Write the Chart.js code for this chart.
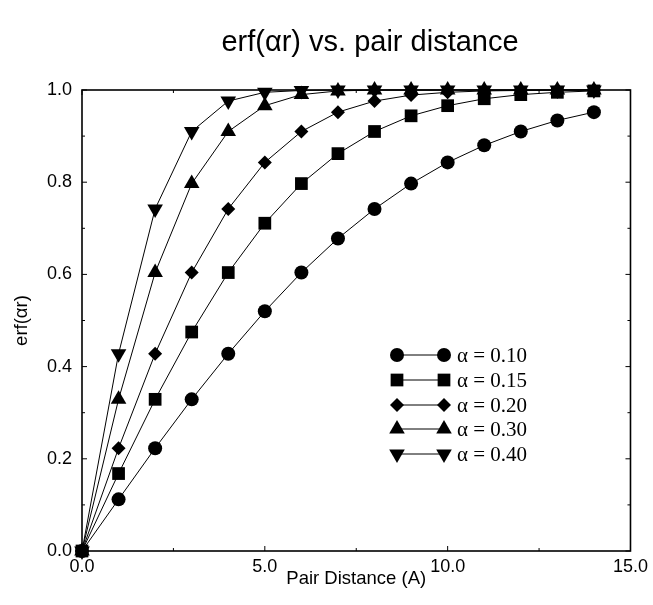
<!DOCTYPE html>
<html>
<head>
<meta charset="utf-8">
<script src="https://cdn.jsdelivr.net/npm/chart.js@4/dist/chart.umd.min.js"></script>
<style>
html,body{margin:0;padding:0;background:#fff;}
#wrap{width:653px;height:605px;}
</style>
</head>
<body>
<div id="wrap"><canvas id="c" width="653" height="605"></canvas></div>
<script>
const distances = [0,1,2,3,4,5,6,7,8,9,10,11,12,13,14];
const alpha010 = [0,0.112,0.223,0.329,0.428,0.520,0.604,0.678,0.742,0.797,0.843,0.880,0.910,0.934,0.952];
const alpha015 = [0,0.168,0.329,0.475,0.604,0.711,0.797,0.862,0.910,0.944,0.966,0.981,0.990,0.995,0.998];
const alpha020 = [0,0.223,0.428,0.604,0.742,0.843,0.910,0.952,0.976,0.989,0.995,0.998,0.999,1.0,1.0];
const alpha030 = [0,0.329,0.604,0.797,0.910,0.966,0.990,0.998,1.0,1.0,1.0,1.0,1.0,1.0,1.0];
const alpha040 = [0,0.428,0.742,0.910,0.976,0.995,0.999,1.0,1.0,1.0,1.0,1.0,1.0,1.0,1.0];
const seriesLabels = ['α = 0.10','α = 0.15','α = 0.20','α = 0.30','α = 0.40'];
const xTickLabels = ['0.0','5.0','10.0','15.0'];
const yTickLabels = ['0.0','0.2','0.4','0.6','0.8','1.0'];
const chartTitle = 'erf(αr) vs. pair distance';

const styles = [
  {pointStyle:'circle', radius:7, rotation:0},
  {pointStyle:'rect', radius:9, rotation:0},
  {pointStyle:'rectRot', radius:7, rotation:0},
  {pointStyle:'triangle', radius:9, rotation:0},
  {pointStyle:'triangle', radius:9, rotation:180}
];
const allSeries = [alpha010, alpha015, alpha020, alpha030, alpha040];

const datasets = allSeries.map((vals, i) => ({
  label: seriesLabels[i],
  data: distances.map((d, j) => ({x: d, y: vals[j]})),
  borderColor: '#000',
  backgroundColor: '#000',
  borderWidth: 1,
  pointStyle: styles[i].pointStyle,
  pointRadius: styles[i].radius,
  pointRotation: styles[i].rotation,
  pointBackgroundColor: '#000',
  pointBorderColor: '#000',
  pointBorderWidth: 0,
  tension: 0,
  clip: false,
  showLine: true
}));

const framePlugin = {
  id: 'frame',
  afterDatasetsDraw(chart) {
    const ctx = chart.ctx;
    const a = chart.chartArea;
    const xs = chart.scales.x, ys = chart.scales.y;
    ctx.save();
    ctx.strokeStyle = '#000';
    ctx.lineWidth = 1.6;
    ctx.strokeRect(a.left, a.top, a.right - a.left, a.bottom - a.top);
    ctx.lineWidth = 1;
    for (let v = 0; v <= 15.001; v += 2.5) {
      const px = xs.getPixelForValue(v);
      const len = (Math.abs(v % 5) < 0.01) ? 5 : 3;
      ctx.beginPath();
      ctx.moveTo(px, a.bottom); ctx.lineTo(px, a.bottom - len);
      ctx.moveTo(px, a.top); ctx.lineTo(px, a.top + len);
      ctx.stroke();
    }
    for (let k = 0; k <= 10; k++) {
      const v = k / 10;
      const py = ys.getPixelForValue(v);
      const len = (k % 2 === 0) ? 5 : 3;
      ctx.beginPath();
      ctx.moveTo(a.left, py); ctx.lineTo(a.left + len, py);
      ctx.moveTo(a.right, py); ctx.lineTo(a.right - len, py);
      ctx.stroke();
    }
    ctx.restore();
  }
};

const legendPlugin = {
  id: 'customLegend',
  afterDraw(chart) {
    const ctx = chart.ctx;
    const rows = [355, 380, 405, 429, 454];
    const x1 = 397, x2 = 444, tx = 457;
    ctx.save();
    chart.data.datasets.forEach((ds, i) => {
      const y = rows[i];
      ctx.strokeStyle = '#000';
      ctx.lineWidth = 1;
      ctx.beginPath(); ctx.moveTo(x1, y); ctx.lineTo(x2, y); ctx.stroke();
      ctx.fillStyle = '#000';
      const opt = {pointStyle: ds.pointStyle, radius: ds.pointRadius, rotation: ds.pointRotation, borderWidth: 0};
      Chart.helpers.drawPoint(ctx, opt, x1, y);
      ctx.fillStyle = '#000';
      Chart.helpers.drawPoint(ctx, opt, x2, y);
      ctx.fillStyle = '#000';
      ctx.font = '21px "Liberation Serif", "Times New Roman", serif';
      ctx.textBaseline = 'middle';
      ctx.textAlign = 'left';
      ctx.fillText(ds.label, tx, y + 1);
    });
    // title
    ctx.font = '29px "Liberation Sans", Arial, sans-serif';
    ctx.textAlign = 'center';
    ctx.textBaseline = 'alphabetic';
    ctx.fillText(chartTitle, 370, 51);
    ctx.restore();
  }
};

new Chart(document.getElementById('c'), {
  type: 'scatter',
  data: { datasets },
  options: {
    responsive: false,
    animation: false,
    devicePixelRatio: 1,
    layout: { padding: { left: 0, right: 22, top: 90, bottom: 0 } },
    plugins: {
      legend: { display: false },
      tooltip: { enabled: false },
      title: { display: false }
    },
    scales: {
      x: {
        type: 'linear',
        min: 0, max: 15,
        afterFit(s) { s.height = 54; },
        afterBuildTicks(s) { s.ticks = xTickLabels.map((t, i) => ({value: i * 5})); },
        grid: { display: false, drawTicks: false },
        border: { display: false },
        ticks: {
          color: '#000',
          padding: 5,
          font: { family: '"Liberation Sans", Arial, sans-serif', size: 18 },
          callback: (v, i) => xTickLabels[i]
        },
        title: {
          display: true,
          text: 'Pair Distance (A)',
          color: '#000',
          font: { family: '"Liberation Sans", Arial, sans-serif', size: 18.5 },
          padding: { top: 0, bottom: 15 }
        }
      },
      y: {
        type: 'linear',
        min: 0, max: 1,
        afterFit(s) { s.width = 82; },
        afterBuildTicks(s) { s.ticks = yTickLabels.map((t, i) => ({value: i * 0.2})); },
        grid: { display: false, drawTicks: false },
        border: { display: false },
        ticks: {
          color: '#000',
          padding: 10,
          font: { family: '"Liberation Sans", Arial, sans-serif', size: 18 },
          callback: (v, i) => yTickLabels[i]
        },
        title: {
          display: true,
          text: 'erf(αr)',
          color: '#000',
          font: { family: '"Liberation Sans", Arial, sans-serif', size: 18.5 },
          padding: { top: 11, bottom: 0 }
        }
      }
    }
  },
  plugins: [framePlugin, legendPlugin]
});
</script>
</body>
</html>
